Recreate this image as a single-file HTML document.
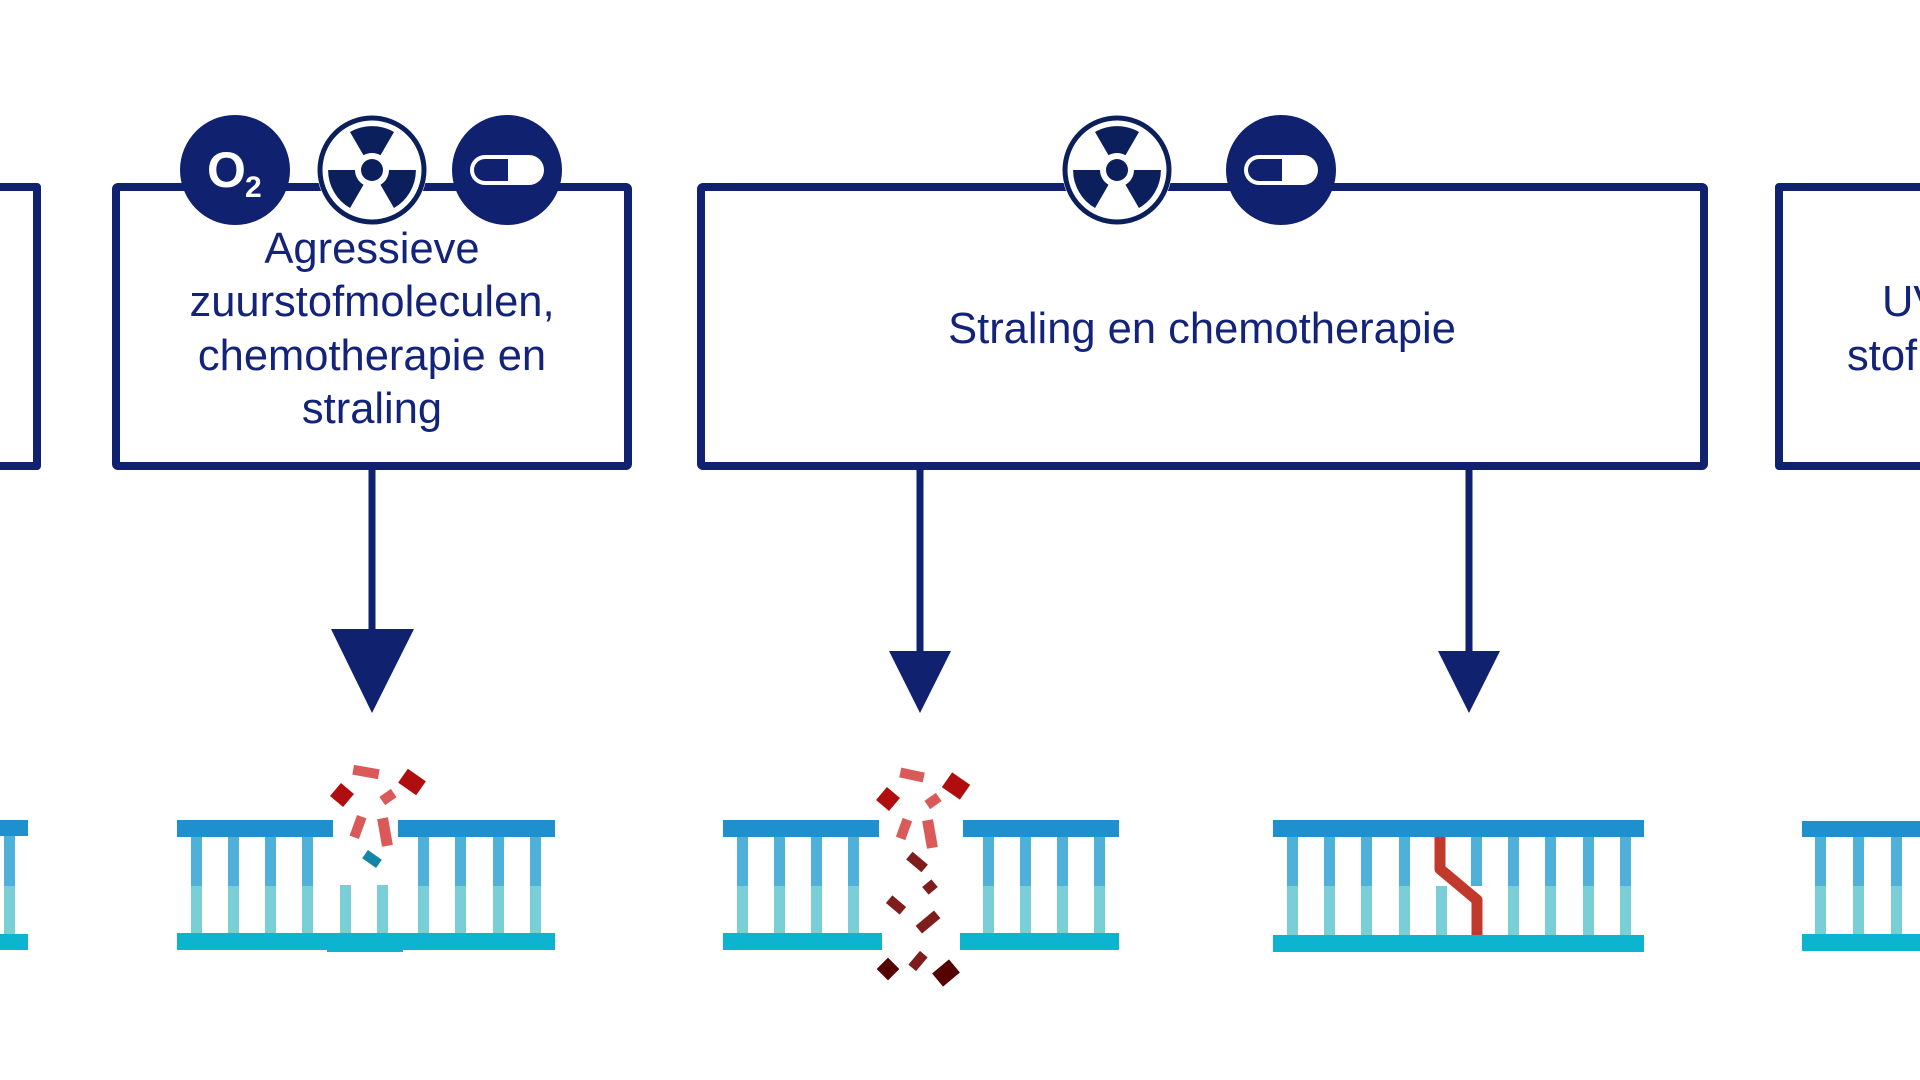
<!DOCTYPE html>
<html><head><meta charset="utf-8"><style>
html,body{margin:0;padding:0;background:#fff;width:1920px;height:1080px;overflow:hidden}
svg{display:block}
text{font-family:"Liberation Sans",sans-serif;fill:#14237a}
</style></head><body>
<svg width="1920" height="1080" viewBox="0 0 1920 1080" xmlns="http://www.w3.org/2000/svg">
<defs>
<path id="blade" d="M -8.5 -14.7 L -22 -38 A 44 44 0 0 1 22 -38 L 8.5 -14.7 A 17 17 0 0 0 -8.5 -14.7 Z" fill="#0b1f5c"/>
<g id="rad">
<circle r="55" fill="#fff"/>
<circle r="52" fill="none" stroke="#0b1f5c" stroke-width="5"/>
<use href="#blade"/><use href="#blade" transform="rotate(120)"/><use href="#blade" transform="rotate(240)"/>
<circle r="11" fill="#0b1f5c"/>
</g>
<g id="pill">
<circle r="55" fill="#0f216f"/>
<rect x="-37" y="-15" width="74" height="30" rx="15" fill="#fff"/>
<path d="M 1 -11 L -22 -11 A 11 11 0 0 0 -22 11 L 1 11 Z" fill="#0f216f"/>
</g>
</defs>

<g fill="none" stroke="#0f216f" stroke-width="8" stroke-linejoin="round">
<path d="M -10 187 L 37 187 L 37 466 L -10 466"/>
<rect x="116" y="187" width="512" height="279" rx="2"/>
<rect x="701" y="187" width="1003" height="279" rx="2"/>
<path d="M 1930 187 L 1779 187 L 1779 466 L 1930 466"/>
</g>

<use href="#pill" transform="translate(507,170)"/>
<g transform="translate(235,170)"><circle r="55" fill="#0f216f"/>
<text x="-28" y="17" style="fill:#fff;font-weight:bold;font-size:50px">O</text>
<text x="10" y="27" style="fill:#fff;font-weight:bold;font-size:30px">2</text></g>
<use href="#rad" transform="translate(372,170)"/>
<use href="#rad" transform="translate(1117,170)"/>
<use href="#pill" transform="translate(1281,170)"/>

<g font-size="43.5" text-anchor="middle">
<text x="372" y="263">Agressieve</text>
<text x="372" y="316">zuurstofmoleculen,</text>
<text x="372" y="370">chemotherapie en</text>
<text x="372" y="423">straling</text>
<text x="1202" y="343">Straling en chemotherapie</text>
</g>
<g font-size="43.5"><text x="1882" y="316">UV</text><text x="1847" y="370">stof</text></g>

<g stroke="#0f216f" stroke-width="7"><line x1="372" y1="466" x2="372" y2="640"/><line x1="920" y1="466" x2="920" y2="660"/><line x1="1469" y1="466" x2="1469" y2="660"/></g>
<g fill="#0f216f">
<polygon points="331,629 414,629 372,713"/>
<polygon points="889,651 951,651 920,713"/>
<polygon points="1438,651 1500,651 1469,713"/>
</g>

<rect x="-5" y="820" width="33" height="16" fill="#1f8fce"/>
<rect x="4" y="836" width="11" height="50" fill="#4fb0d9"/><rect x="4" y="886" width="11" height="48" fill="#7acfd7"/>
<rect x="-5" y="934" width="33" height="16" fill="#0cb4cf"/>

<rect x="177" y="820" width="156" height="17" fill="#1f8fce"/>
<rect x="398" y="820" width="157" height="17" fill="#1f8fce"/>
<g fill="#4fb0d9"><rect x="191" y="837" width="11" height="49"/><rect x="228" y="837" width="11" height="49"/><rect x="265" y="837" width="11" height="49"/><rect x="302" y="837" width="11" height="49"/><rect x="418" y="837" width="11" height="49"/><rect x="455" y="837" width="11" height="49"/><rect x="493" y="837" width="11" height="49"/><rect x="530" y="837" width="11" height="49"/></g>
<g fill="#7acfd7"><rect x="191" y="886" width="11" height="47"/><rect x="228" y="886" width="11" height="47"/><rect x="265" y="886" width="11" height="47"/><rect x="302" y="886" width="11" height="47"/><rect x="340" y="885" width="11" height="48"/><rect x="377" y="885" width="11" height="48"/><rect x="418" y="886" width="11" height="47"/><rect x="455" y="886" width="11" height="47"/><rect x="493" y="886" width="11" height="47"/><rect x="530" y="886" width="11" height="47"/></g>
<rect x="177" y="933" width="378" height="17" fill="#0cb4cf"/><rect x="327" y="935" width="76" height="17" fill="#0cb4cf"/>
<g>
<rect x="-13" y="-5" width="26" height="10" fill="#d95a58" transform="translate(366,772) rotate(10)"/>
<rect x="-8.5" y="-8.5" width="17" height="17" fill="#b00e0e" transform="translate(342,795) rotate(40)"/>
<rect x="-11" y="-8.5" width="22" height="17" fill="#b00e0e" transform="translate(412,782) rotate(35)"/>
<rect x="-7" y="-5" width="14" height="10" fill="#d95a58" transform="translate(388,797) rotate(-35)"/>
<rect x="-5" y="-11" width="10" height="22" fill="#d95a58" transform="translate(358,827) rotate(20)"/>
<rect x="-5.5" y="-14" width="11" height="28" fill="#d95a58" transform="translate(385,832) rotate(-10)"/>
<rect x="-8.5" y="-5" width="17" height="10" fill="#1386a8" transform="translate(372,859) rotate(35)"/>
</g>

<rect x="723" y="820" width="156" height="17" fill="#1f8fce"/>
<rect x="963" y="820" width="156" height="17" fill="#1f8fce"/>
<g fill="#4fb0d9"><rect x="737" y="837" width="11" height="49"/><rect x="774" y="837" width="11" height="49"/><rect x="811" y="837" width="11" height="49"/><rect x="848" y="837" width="11" height="49"/><rect x="983" y="837" width="11" height="49"/><rect x="1020" y="837" width="11" height="49"/><rect x="1057" y="837" width="11" height="49"/><rect x="1094" y="837" width="11" height="49"/></g>
<g fill="#7acfd7"><rect x="737" y="886" width="11" height="47"/><rect x="774" y="886" width="11" height="47"/><rect x="811" y="886" width="11" height="47"/><rect x="848" y="886" width="11" height="47"/><rect x="983" y="886" width="11" height="47"/><rect x="1020" y="886" width="11" height="47"/><rect x="1057" y="886" width="11" height="47"/><rect x="1094" y="886" width="11" height="47"/></g>
<rect x="723" y="933" width="159" height="17" fill="#0cb4cf"/><rect x="960" y="933" width="159" height="17" fill="#0cb4cf"/>
<g>
<rect x="-12" y="-5" width="24" height="10" fill="#d95a58" transform="translate(912,775) rotate(12)"/>
<rect x="-8.5" y="-8.5" width="17" height="17" fill="#b00e0e" transform="translate(888,799) rotate(40)"/>
<rect x="-11" y="-9" width="22" height="18" fill="#b00e0e" transform="translate(956,786) rotate(35)"/>
<rect x="-7" y="-5" width="14" height="10" fill="#d95a58" transform="translate(933,801) rotate(-35)"/>
<rect x="-5" y="-10" width="10" height="20" fill="#d95a58" transform="translate(904,829) rotate(20)"/>
<rect x="-5.5" y="-14" width="11" height="28" fill="#d95a58" transform="translate(930,834) rotate(-10)"/>
<rect x="-10" y="-5" width="20" height="10" fill="#7f1d1d" transform="translate(917,862) rotate(40)"/>
<rect x="-6" y="-5" width="12" height="10" fill="#7f1d1d" transform="translate(930,887) rotate(-40)"/>
<rect x="-9" y="-5" width="18" height="10" fill="#7f1d1d" transform="translate(896,905) rotate(40)"/>
<rect x="-12" y="-5" width="24" height="10" fill="#7f1d1d" transform="translate(928,922) rotate(-40)"/>
<rect x="-9" y="-5" width="18" height="10" fill="#7f1d1d" transform="translate(918,961) rotate(-50)"/>
<rect x="-8" y="-8" width="16" height="16" fill="#550202" transform="translate(888,969) rotate(45)"/>
<rect x="-11" y="-8.5" width="22" height="17" fill="#550202" transform="translate(946,973) rotate(-40)"/>
</g>

<rect x="1273" y="820" width="371" height="17" fill="#1f8fce"/>
<g fill="#4fb0d9"><rect x="1287" y="837" width="11" height="49"/><rect x="1324" y="837" width="11" height="49"/><rect x="1361" y="837" width="11" height="49"/><rect x="1399" y="837" width="11" height="49"/><rect x="1471" y="837" width="11" height="49"/><rect x="1508" y="837" width="11" height="49"/><rect x="1545" y="837" width="11" height="49"/><rect x="1583" y="837" width="11" height="49"/><rect x="1620" y="837" width="11" height="49"/></g>
<g fill="#7acfd7"><rect x="1287" y="886" width="11" height="49"/><rect x="1324" y="886" width="11" height="49"/><rect x="1361" y="886" width="11" height="49"/><rect x="1399" y="886" width="11" height="49"/><rect x="1436" y="886" width="11" height="49"/><rect x="1508" y="886" width="11" height="49"/><rect x="1545" y="886" width="11" height="49"/><rect x="1583" y="886" width="11" height="49"/><rect x="1620" y="886" width="11" height="49"/></g>
<path d="M 1440 837 L 1440 869 L 1477 900 L 1477 935" fill="none" stroke="#c0392b" stroke-width="11" stroke-linejoin="round"/>
<rect x="1273" y="935" width="371" height="17" fill="#0cb4cf"/>

<rect x="1802" y="821" width="130" height="16" fill="#1f8fce"/>
<g fill="#4fb0d9"><rect x="1815" y="837" width="11" height="49"/><rect x="1853" y="837" width="11" height="49"/><rect x="1891" y="837" width="11" height="49"/></g>
<g fill="#7acfd7"><rect x="1815" y="886" width="11" height="48"/><rect x="1853" y="886" width="11" height="48"/><rect x="1891" y="886" width="11" height="48"/></g>
<rect x="1802" y="934" width="130" height="17" fill="#0cb4cf"/>
</svg>
</body></html>
